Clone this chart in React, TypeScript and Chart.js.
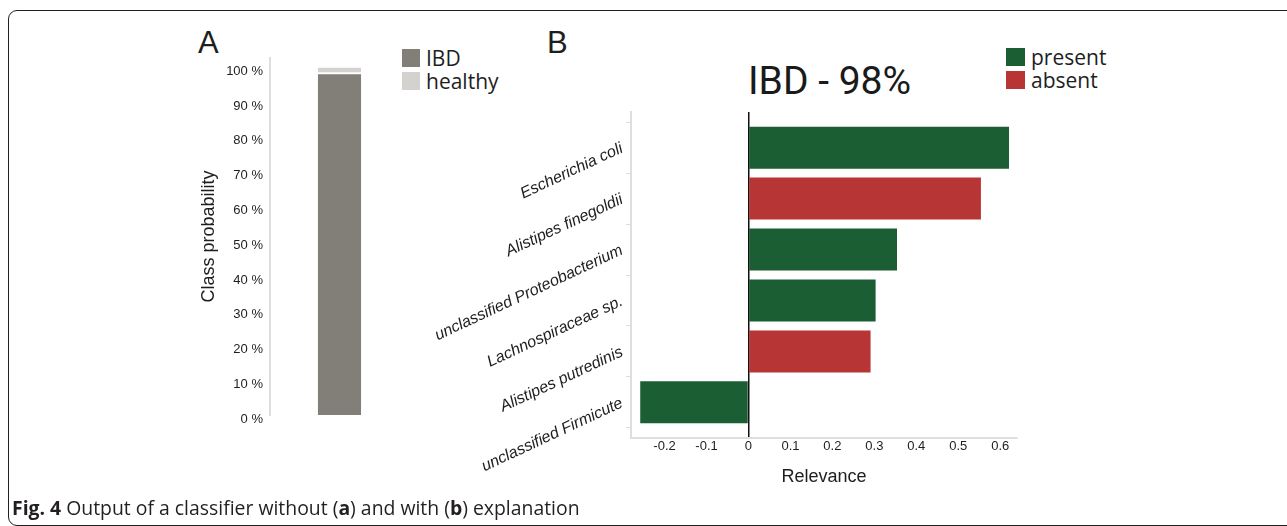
import React, { useEffect, useRef } from "react";
import { Chart, registerables } from "chart.js";

Chart.register(...registerables);

// ---- Panel A data ----
const classLabels = ["IBD", "healthy"];
const classProbability = [98, 2];
const classColors = ["#827e78", "#d3d2cf"];

// ---- Panel B data ----
const taxa = [
  "Escherichia coli",
  "Alistipes finegoldii",
  "unclassified Proteobacterium",
  "Lachnospiraceae sp.",
  "Alistipes putredinis",
  "unclassified Firmicute",
];
const relevance = [0.621, 0.554, 0.354, 0.303, 0.291, -0.258];
const status = ["present", "absent", "present", "present", "absent", "present"];
const statusLabels = ["present", "absent"];
const statusColors = ["#1b5e33", "#b83536"];

const SANS = '"Liberation Sans", Arial, sans-serif';
const TEXT = "#1e1e1e";
const AXIS = "#dedede";

function ProbabilityChart() {
  const ref = useRef<HTMLCanvasElement | null>(null);
  useEffect(() => {
    if (!ref.current) return;
    const chart = new Chart(ref.current, {
      type: "bar",
      data: {
        labels: [""],
        datasets: classLabels.map((label, i) => ({
          label,
          data: [classProbability[i]],
          backgroundColor: classColors[i],
          borderColor: "#ffffff",
          borderWidth: i === 0 ? 0 : { top: 0, left: 0, right: 0, bottom: 2 },
          borderSkipped: false,
          barPercentage: 0.31,
          categoryPercentage: 1,
        })),
      },
      options: {
        animation: false,
        responsive: false,
        maintainAspectRatio: false,
        layout: { padding: { top: 18, bottom: 25, left: 0, right: 0 } },
        plugins: { legend: { display: false }, tooltip: { enabled: false } },
        scales: {
          x: { stacked: true, display: false },
          y: {
            stacked: true,
            min: 0,
            max: 102.7,
            afterFit: (s: any) => {
              s.width = 76;
            },
            ticks: {
              stepSize: 10,
              includeBounds: false,
              padding: 7,
              labelOffset: 4,
              color: TEXT,
              font: { family: SANS, size: 13 },
              callback: (v: any) => `${v} %`,
            },
            grid: { display: false, drawTicks: false },
            border: { display: true, color: AXIS, width: 2 },
            title: {
              display: true,
              text: "Class probability",
              color: TEXT,
              font: { family: SANS, size: 18 },
              padding: { top: 4, bottom: 4 },
            },
          },
        },
      } as any,
    });
    return () => chart.destroy();
  }, []);
  return (
    <canvas
      ref={ref}
      width={215}
      height={400}
      style={{ position: "absolute", left: 194, top: 40, width: 215, height: 400 }}
    />
  );
}

function RelevanceChart() {
  const ref = useRef<HTMLCanvasElement | null>(null);
  useEffect(() => {
    if (!ref.current) return;
    const chart = new Chart(ref.current, {
      type: "bar",
      data: {
        datasets: statusLabels.map((s, k) => ({
          label: s,
          data: taxa
            .map((_, i) => (status[i] === s ? { x: relevance[i], y: i } : null))
            .filter((p) => p !== null) as any,
          backgroundColor: statusColors[k],
          grouped: false,
          barPercentage: 0.825,
          categoryPercentage: 1,
        })),
      },
      options: {
        indexAxis: "y",
        animation: false,
        responsive: false,
        maintainAspectRatio: false,
        layout: { padding: { top: 17, right: 23, bottom: 3, left: 0 } },
        plugins: { legend: { display: false }, tooltip: { enabled: false } },
        scales: {
          x: {
            type: "linear",
            min: -0.28,
            max: 0.64,
            afterFit: (s: any) => {
              s.height = 54;
            },
            ticks: {
              stepSize: 0.1,
              includeBounds: false,
              padding: 1,
              color: TEXT,
              font: { family: SANS, size: 13 },
            },
            grid: {
              drawTicks: false,
              lineWidth: 1.5,
              color: (ctx: any) =>
                ctx.tick && ctx.tick.value === 0 ? "#111111" : "rgba(0,0,0,0)",
            },
            border: { display: true, color: AXIS, width: 2 },
            title: {
              display: true,
              text: "Relevance",
              color: TEXT,
              font: { family: SANS, size: 18 },
              padding: { top: 4, bottom: 4 },
            },
          },
          y: {
            type: "linear",
            reverse: true,
            offset: false,
            min: -0.7,
            max: 5.7,
            afterFit: (s: any) => {
              s.width = 211;
            },
            ticks: {
              stepSize: 1,
              includeBounds: false,
              minRotation: 25,
              maxRotation: 25,
              padding: 4,
              color: TEXT,
              font: { family: SANS, size: 16, style: "italic" },
              callback: (v: any) => taxa[v] ?? "",
            },
            grid: {
              display: true,
              drawOnChartArea: false,
              offset: true,
              drawTicks: true,
              tickLength: 5,
              color: AXIS,
            },
            border: { display: true, color: AXIS, width: 2 },
          },
        },
      } as any,
    });
    return () => chart.destroy();
  }, []);
  return (
    <canvas
      ref={ref}
      width={620}
      height={400}
      style={{ position: "absolute", left: 420, top: 95, width: 620, height: 400 }}
    />
  );
}

function LegendRow(props: { color: string; label: string; left: number; top: number; w: number }) {
  return (
    <div
      style={{
        position: "absolute",
        left: props.left,
        top: props.top,
        height: 18,
        display: "flex",
        alignItems: "center",
        whiteSpace: "nowrap",
      }}
    >
      <div style={{ width: props.w, height: 18, background: props.color }} />
      <span
        style={{
          marginLeft: 6,
          fontFamily: '"Open Sans", sans-serif',
          fontSize: 21,
          lineHeight: "18px",
          color: TEXT,
        }}
      >
        {props.label}
      </span>
    </div>
  );
}

export default function App() {
  return (
    <div
      style={{
        position: "absolute",
        left: 0,
        top: 0,
        width: 1287,
        height: 526,
        overflow: "hidden",
        background: "#ffffff",
      }}
    >
      <div
        style={{
          position: "absolute",
          left: 8,
          top: 10,
          width: 1320,
          height: 516,
          boxSizing: "border-box",
          border: "1.5px solid #231f20",
          borderRadius: 9,
        }}
      />
      <div
        style={{
          position: "absolute",
          left: 198,
          top: 28,
          fontFamily: SANS,
          fontSize: 31,
          lineHeight: "30px",
          color: TEXT,
        }}
      >
        A
      </div>
      <div
        style={{
          position: "absolute",
          left: 547,
          top: 28,
          fontFamily: SANS,
          fontSize: 31,
          lineHeight: "30px",
          color: TEXT,
        }}
      >
        B
      </div>
      <div
        style={{
          position: "absolute",
          left: 748,
          top: 62,
          fontFamily: "Roboto, sans-serif",
          fontSize: 39,
          lineHeight: "39px",
          color: "#1a1a1a",
          whiteSpace: "nowrap",
        }}
      >
        IBD - 98%
      </div>
      {classLabels.map((l, i) => (
        <LegendRow key={l} color={classColors[i]} label={l} left={402} top={49 + i * 23} w={18} />
      ))}
      {statusLabels.map((l, i) => (
        <LegendRow key={l} color={statusColors[i]} label={l} left={1006} top={48 + i * 23} w={19} />
      ))}
      <ProbabilityChart />
      <RelevanceChart />
      <div
        style={{
          position: "absolute",
          left: 12,
          top: 498,
          fontFamily: '"Open Sans", sans-serif',
          fontSize: 19.4,
          lineHeight: "19px",
          color: "#231f20",
          whiteSpace: "nowrap",
        }}
      >
        <b>Fig. 4</b> Output of a classifier without (<b>a</b>) and with (<b>b</b>) explanation
      </div>
    </div>
  );
}
